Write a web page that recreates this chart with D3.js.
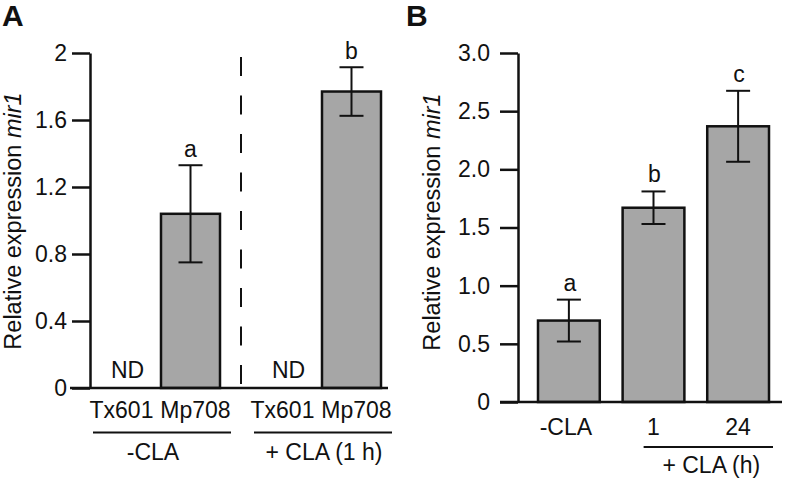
<!DOCTYPE html>
<html>
<head>
<meta charset="utf-8">
<script src="https://cdn.jsdelivr.net/npm/d3@7"></script>
<style>
  html, body { margin: 0; padding: 0; background: #fff; }
  svg { display: block; font-family: "Liberation Sans", Arial, Helvetica, sans-serif; }
</style>
</head>
<body>
<svg id="chart" width="785" height="484"></svg>
<script>
// ---------- Data ----------
// Panel A
const groupsA = ["-CLA", "+ CLA (1 h)"];
const genotypesA = ["Tx601", "Mp708"];
const meansA = [null, 1.04, null, 1.77];      // null = not detected (ND)
const errorsA = [null, 0.29, null, 0.145];
const lettersA = ["", "a", "", "b"];
const tickValuesA = [0, 0.4, 0.8, 1.2, 1.6, 2];
const tickLabelsA = ["0", "0.4", "0.8", "1.2", "1.6", "2"];

// Panel B
const categoriesB = ["-CLA", "1", "24"];
const meansB = [0.70, 1.67, 2.37];
const errorsB = [0.18, 0.14, 0.305];
const lettersB = ["a", "b", "c"];
const tickValuesB = [0, 0.5, 1, 1.5, 2, 2.5, 3];
const tickLabelsB = ["0", "0.5", "1.0", "1.5", "2.0", "2.5", "3.0"];
const groupLabelB = "+ CLA (h)";

// ---------- Style ----------
const FILL = "#a6a6a6";
const INK = "#111";
const FS = 23;

const svg = d3.select("#chart");

function yTitle(g, x, y) {
  const t = g.append("text")
    .attr("transform", `translate(${x},${y}) rotate(-90)`)
    .attr("text-anchor", "middle")
    .attr("font-size", 23.5)
    .attr("fill", INK);
  t.append("tspan").text("Relative expression ");
  t.append("tspan").attr("font-style", "italic").text("mir1");
}

function drawYAxis(g, y, axisX, tickVals, tickLabels, pad) {
  const axis = d3.axisLeft(y)
    .tickValues(tickVals)
    .tickFormat((d, i) => tickLabels[i])
    .tickSize(18)
    .tickSizeOuter(0)
    .tickPadding(pad);
  const ag = g.append("g").attr("transform", `translate(${axisX},0)`).call(axis);
  ag.select(".domain").attr("stroke", INK).attr("stroke-width", 2.5);
  ag.selectAll(".tick line").attr("stroke", INK).attr("stroke-width", 2.5);
  ag.selectAll(".tick text")
    .attr("font-size", FS)
    .attr("fill", INK)
    .attr("font-family", "Liberation Sans, Arial, sans-serif");
  return ag;
}

function drawErr(g, cx, y, m, e) {
  const cap = 12;
  g.append("line").attr("x1", cx).attr("x2", cx)
    .attr("y1", y(m - e)).attr("y2", y(m + e))
    .attr("stroke", INK).attr("stroke-width", 2);
  [m - e, m + e].forEach(v => {
    g.append("line").attr("x1", cx - cap).attr("x2", cx + cap)
      .attr("y1", y(v)).attr("y2", y(v))
      .attr("stroke", INK).attr("stroke-width", 2);
  });
}

// ---------- Panel A ----------
(function () {
  const g = svg.append("g");
  const y = d3.scaleLinear().domain([0, 2]).range([388, 53]);
  const x0 = d3.scaleBand().domain(groupsA).range([97, 381]).paddingInner(0.236).paddingOuter(0);
  const x1 = d3.scaleBand().domain(genotypesA).range([0, x0.bandwidth()]).paddingInner(0.078).paddingOuter(0);

  g.append("text").attr("x", 2).attr("y", 26).attr("font-size", 30)
    .attr("font-weight", "bold").attr("fill", INK).text("A");

  yTitle(g, 21, 221);
  drawYAxis(g, y, 90, tickValuesA, tickLabelsA, 5);

  // separator dashed line between the groups
  const sepX = (x0(groupsA[0]) + x0.bandwidth() + x0(groupsA[1])) / 2 + 2;
  g.append("line").attr("x1", sepX).attr("x2", sepX)
    .attr("y1", 57).attr("y2", y(0))
    .attr("stroke", INK).attr("stroke-width", 2)
    .attr("stroke-dasharray", "19 19.5");

  const rows = [];
  groupsA.forEach((grp, gi) => genotypesA.forEach((gen, ji) => {
    const k = gi * genotypesA.length + ji;
    rows.push({ grp, gen, mean: meansA[k], err: errorsA[k], letter: lettersA[k] });
  }));

  rows.forEach(r => {
    const bx = x0(r.grp) + x1(r.gen);
    const cx = bx + x1.bandwidth() / 2;
    if (r.mean == null) {
      g.append("text").attr("x", cx + 1).attr("y", 378).attr("text-anchor", "middle")
        .attr("font-size", FS).attr("fill", INK).text("ND");
    } else {
      g.append("rect").attr("x", bx).attr("y", y(r.mean))
        .attr("width", x1.bandwidth()).attr("height", y(0) - y(r.mean))
        .attr("fill", FILL).attr("stroke", INK).attr("stroke-width", 2.5);
      drawErr(g, cx, y, r.mean, r.err);
      g.append("text").attr("x", cx).attr("y", y(r.mean + r.err) - 8)
        .attr("text-anchor", "middle").attr("font-size", FS).attr("fill", INK).text(r.letter);
    }
    const off = r.gen === genotypesA[0] ? -5 : 5;
    g.append("text").attr("x", cx + off).attr("y", 418).attr("text-anchor", "middle")
      .attr("font-size", FS).attr("fill", INK).text(r.gen);
  });

  // baseline
  g.append("line").attr("x1", 70).attr("x2", 388).attr("y1", y(0)).attr("y2", y(0))
    .attr("stroke", INK).attr("stroke-width", 2.5);

  // group underlines and labels
  groupsA.forEach((grp, gi) => {
    const a = x0(grp) - 4, b = x0(grp) + x0.bandwidth() + 11;
    g.append("line").attr("x1", a).attr("x2", b).attr("y1", 432.5).attr("y2", 432.5)
      .attr("stroke", INK).attr("stroke-width", 2);
    g.append("text").attr("x", gi === 0 ? (a + b) / 2 - 9 : (a + b) / 2 + 1).attr("y", 460)
      .attr("text-anchor", "middle").attr("font-size", FS).attr("fill", INK).text(grp);
  });
})();

// ---------- Panel B ----------
(function () {
  const g = svg.append("g");
  const y = d3.scaleLinear().domain([0, 3]).range([402, 53]);
  const x = d3.scaleBand().domain(categoriesB).range([538, 769]).paddingInner(0.27).paddingOuter(0);

  g.append("text").attr("x", 406).attr("y", 26).attr("font-size", 30)
    .attr("font-weight", "bold").attr("fill", INK).text("B");

  yTitle(g, 440, 222);
  drawYAxis(g, y, 518, tickValuesB, tickLabelsB, 10);

  categoriesB.forEach((c, i) => {
    const bx = x(c), cx = bx + x.bandwidth() / 2;
    g.append("rect").attr("x", bx).attr("y", y(meansB[i]))
      .attr("width", x.bandwidth()).attr("height", y(0) - y(meansB[i]))
      .attr("fill", FILL).attr("stroke", INK).attr("stroke-width", 2.5);
    drawErr(g, cx, y, meansB[i], errorsB[i]);
    g.append("text").attr("x", cx + 1).attr("y", y(meansB[i] + errorsB[i]) - 9)
      .attr("text-anchor", "middle").attr("font-size", FS).attr("fill", INK).text(lettersB[i]);
    g.append("text").attr("x", cx + (i === 0 ? -3 : 0)).attr("y", 435)
      .attr("text-anchor", "middle").attr("font-size", FS).attr("fill", INK).text(c);
  });

  g.append("line").attr("x1", 500).attr("x2", 782).attr("y1", y(0)).attr("y2", y(0))
    .attr("stroke", INK).attr("stroke-width", 2.5);

  const a = x(categoriesB[1]) + 21, b = x(categoriesB[2]) + x.bandwidth() + 4;
  g.append("line").attr("x1", a).attr("x2", b).attr("y1", 447).attr("y2", 447)
    .attr("stroke", INK).attr("stroke-width", 2);
  g.append("text").attr("x", (a + b) / 2 + 3).attr("y", 473).attr("text-anchor", "middle")
    .attr("font-size", FS).attr("fill", INK).text(groupLabelB);
})();
</script>
</body>
</html>
